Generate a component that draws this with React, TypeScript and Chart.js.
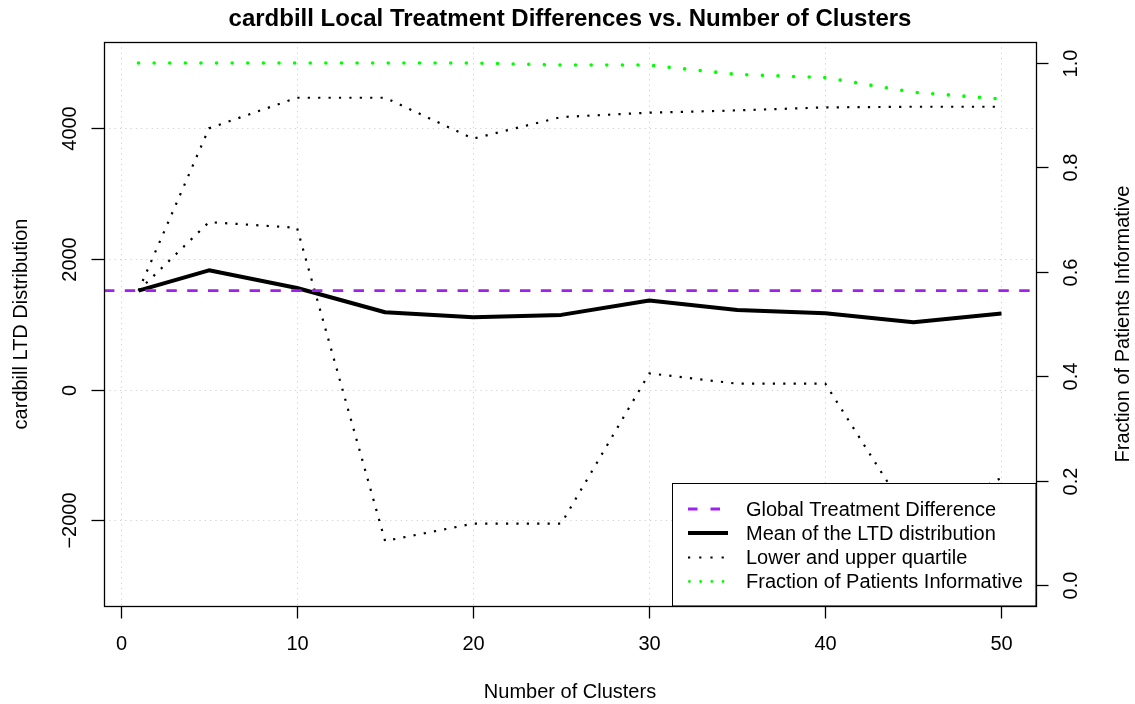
import React, { useEffect, useRef } from "react";
import { Chart, registerables } from "chart.js";

Chart.register(...registerables);

// ---- data ----
const clusters = [1, 5, 10, 15, 20, 25, 30, 35, 40, 45, 50];
const meanLTD = [1517, 1827, 1557, 1186, 1110, 1145, 1364, 1221, 1171, 1034, 1165];
const upperQuartile = [1517, 4000, 4469, 4469, 3843, 4173, 4240, 4275, 4321, 4331, 4331];
const lowerQuartile = [1517, 2565, 2478, -2316, -2051, -2051, 250, 92, 92, -2040, -1350];
const fractionInformative = [1, 1, 1, 1, 1, 0.996, 0.996, 0.978, 0.972, 0.944, 0.931];
const globalDifference = 1517;

const xTicks = [0, 10, 20, 30, 40, 50];
const leftTicks = [-2000, 0, 2000, 4000];
const rightTicks = [0, 0.2, 0.4, 0.6, 0.8, 1.0];

const titleText = "cardbill Local Treatment Differences vs. Number of Clusters";
const xTitle = "Number of Clusters";
const yTitle = "cardbill LTD Distribution";
const y2Title = "Fraction of Patients Informative";
const legendLabels = [
  "Global Treatment Difference",
  "Mean of the LTD distribution",
  "Lower and upper quartile",
  "Fraction of Patients Informative",
];

// axis ranges (R style 4% extension)
const X_MIN = -0.96;
const X_MAX = 51.96;
const Y_MIN = -3311;
const Y_MAX = 5322;
const Y2_MIN = -0.0402;
const Y2_MAX = 1.0402;

const FONT = "'Liberation Sans', Arial, Helvetica, sans-serif";
const PURPLE = "#A020F0";
const GREEN = "#00FF00";

function fmtLeft(v: number) {
  return v < 0 ? "\u2212" + Math.abs(v) : String(v);
}

const decorPlugin = {
  id: "rDecor",
  beforeDatasetsDraw(chart: any) {
    const ctx = chart.ctx;
    const a = chart.chartArea;
    const xs = chart.scales.x;
    const ys = chart.scales.y;
    ctx.save();
    ctx.strokeStyle = "#D3D3D3";
    ctx.lineWidth = 1;
    ctx.setLineDash([1.3, 4]);
    xTicks.forEach((t) => {
      const px = Math.round(xs.getPixelForValue(t)) + 0.5;
      ctx.beginPath();
      ctx.moveTo(px, a.top);
      ctx.lineTo(px, a.bottom);
      ctx.stroke();
    });
    leftTicks.forEach((t) => {
      const py = Math.round(ys.getPixelForValue(t)) + 0.5;
      ctx.beginPath();
      ctx.moveTo(a.left, py);
      ctx.lineTo(a.right, py);
      ctx.stroke();
    });
    ctx.restore();
  },
  afterDatasetsDraw(chart: any) {
    const ctx = chart.ctx;
    const a = chart.chartArea;
    const xs = chart.scales.x;
    const ys = chart.scales.y;
    const y2 = chart.scales.y2;
    const tickLen = 12.5;
    ctx.save();
    ctx.setLineDash([]);

    // legend box (drawn over data)
    const lx = 672.5, ly = 483.5, lr = a.right, lb = a.bottom;
    ctx.fillStyle = "#FFFFFF";
    ctx.fillRect(lx, ly, lr - lx, lb - ly);
    ctx.strokeStyle = "#000";
    ctx.lineWidth = 1;
    ctx.strokeRect(lx, ly, lr - lx, lb - ly);

    const rowY = [509, 533, 557.5, 581.5];
    const sx0 = 688, sx1 = 728;
    const samples = [
      { color: PURPLE, width: 2.8, dash: [9.5, 13], cap: "butt" },
      { color: "#000", width: 4, dash: [] as number[], cap: "butt" },
      { color: "#000", width: 2.2, dash: [2.2, 9], cap: "butt" },
      { color: GREEN, width: 2.8, dash: [0.01, 11.2], cap: "round" },
    ];
    samples.forEach((s, i) => {
      ctx.beginPath();
      ctx.strokeStyle = s.color;
      ctx.lineWidth = s.width;
      ctx.lineCap = s.cap;
      ctx.setLineDash(s.dash);
      ctx.moveTo(s.cap === "round" ? sx0 + 1.4 : sx0, rowY[i]);
      ctx.lineTo(sx1, rowY[i]);
      ctx.stroke();
    });
    ctx.lineCap = "butt";
    ctx.setLineDash([]);
    ctx.fillStyle = "#000";
    ctx.font = `20px ${FONT}`;
    ctx.textAlign = "left";
    ctx.textBaseline = "middle";
    legendLabels.forEach((t, i) => ctx.fillText(t, 746, rowY[i] + 1));

    // plot box
    ctx.strokeStyle = "#000";
    ctx.lineWidth = 1.3;
    ctx.strokeRect(a.left + 0.5, a.top + 0.5, a.right - a.left, a.bottom - a.top);

    // x axis ticks & labels
    ctx.lineWidth = 1.3;
    ctx.font = `20px ${FONT}`;
    ctx.textAlign = "center";
    ctx.textBaseline = "middle";
    xTicks.forEach((t) => {
      const px = Math.round(xs.getPixelForValue(t)) + 0.5;
      ctx.beginPath();
      ctx.moveTo(px, a.bottom);
      ctx.lineTo(px, a.bottom + tickLen);
      ctx.stroke();
      ctx.fillText(String(t), px, 644);
    });

    // left axis ticks & labels
    leftTicks.forEach((t) => {
      const py = Math.round(ys.getPixelForValue(t)) + 0.5;
      ctx.beginPath();
      ctx.moveTo(a.left, py);
      ctx.lineTo(a.left - tickLen, py);
      ctx.stroke();
      ctx.save();
      ctx.translate(70, py);
      ctx.rotate(-Math.PI / 2);
      ctx.fillText(fmtLeft(t), 0, 0);
      ctx.restore();
    });

    // right axis ticks & labels
    rightTicks.forEach((t) => {
      const py = Math.round(y2.getPixelForValue(t)) + 0.5;
      ctx.beginPath();
      ctx.moveTo(a.right, py);
      ctx.lineTo(a.right + tickLen, py);
      ctx.stroke();
      ctx.save();
      ctx.translate(1071, py);
      ctx.rotate(-Math.PI / 2);
      ctx.fillText(t.toFixed(1), 0, 0);
      ctx.restore();
    });

    // axis titles
    const cy = (a.top + a.bottom) / 2;
    ctx.fillText(xTitle, (a.left + a.right) / 2, 692);
    ctx.save();
    ctx.translate(21, cy);
    ctx.rotate(-Math.PI / 2);
    ctx.fillText(yTitle, 0, 0);
    ctx.restore();
    ctx.save();
    ctx.translate(1123, cy);
    ctx.rotate(-Math.PI / 2);
    ctx.fillText(y2Title, 0, 0);
    ctx.restore();

    // title
    ctx.font = `bold 24px ${FONT}`;
    ctx.textBaseline = "alphabetic";
    ctx.fillText(titleText, (a.left + a.right) / 2, 26);

    ctx.restore();
  },
};

export default function App() {
  const canvasRef = useRef<HTMLCanvasElement | null>(null);

  useEffect(() => {
    document.body.style.margin = "0";
    const canvas = canvasRef.current;
    if (!canvas) return;
    const toXY = (ys: number[]) => clusters.map((c, i) => ({ x: c, y: ys[i] }));
    const chart = new Chart(canvas, {
      type: "line",
      data: {
        datasets: [
          {
            label: "Fraction of Patients Informative",
            data: toXY(fractionInformative),
            yAxisID: "y2",
            borderColor: GREEN,
            borderWidth: 3.6,
            borderDash: [0.01, 15.6],
            borderCapStyle: "round",
            pointRadius: 0,
            fill: false,
            order: 0,
          },
          {
            label: "Global Treatment Difference",
            data: [
              { x: X_MIN, y: globalDifference },
              { x: X_MAX, y: globalDifference },
            ],
            yAxisID: "y",
            borderColor: PURPLE,
            borderWidth: 2.8,
            borderDash: [10.4, 10.4],
            pointRadius: 0,
            fill: false,
            order: 1,
          },
          {
            label: "Upper quartile",
            data: toXY(upperQuartile),
            yAxisID: "y",
            borderColor: "#000",
            borderWidth: 2.2,
            borderDash: [2.2, 8.2],
            pointRadius: 0,
            fill: false,
            order: 2,
          },
          {
            label: "Lower quartile",
            data: toXY(lowerQuartile),
            yAxisID: "y",
            borderColor: "#000",
            borderWidth: 2.2,
            borderDash: [2.2, 8.2],
            pointRadius: 0,
            fill: false,
            order: 2,
          },
          {
            label: "Mean of the LTD distribution",
            data: toXY(meanLTD),
            yAxisID: "y",
            borderColor: "#000",
            borderWidth: 4,
            pointRadius: 0,
            fill: false,
            order: 3,
          },
        ],
      },
      options: {
        responsive: false,
        animation: false,
        devicePixelRatio: 1,
        layout: { padding: { left: 104, right: 99, top: 42, bottom: 98 } },
        plugins: {
          legend: { display: false },
          title: { display: false },
          tooltip: { enabled: false },
        },
        elements: { line: { tension: 0, borderCapStyle: "butt", borderJoinStyle: "round" } },
        scales: {
          x: { type: "linear", min: X_MIN, max: X_MAX, display: false },
          y: { type: "linear", min: Y_MIN, max: Y_MAX, display: false },
          y2: { type: "linear", min: Y2_MIN, max: Y2_MAX, display: false },
        },
      },
      plugins: [decorPlugin],
    });
    return () => chart.destroy();
  }, []);

  return (
    <div style={{ position: "absolute", left: 0, top: 0, width: 1135, height: 704, background: "#fff" }}>
      <canvas ref={canvasRef} width={1135} height={704} style={{ display: "block" }} />
    </div>
  );
}
